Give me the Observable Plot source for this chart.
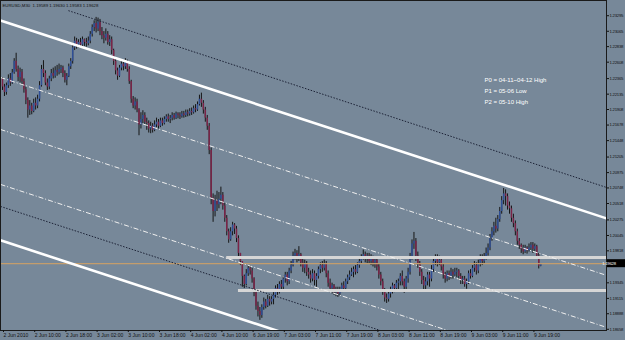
<!DOCTYPE html>
<html><head><meta charset="utf-8">
<script src="https://cdn.jsdelivr.net/npm/d3@7"></script>
<script src="https://cdn.jsdelivr.net/npm/@observablehq/plot@0.6"></script>
<style>
html,body{margin:0;padding:0;background:#778899;}
#chart{width:625px;height:340px;overflow:hidden;}
</style></head><body><div id="chart"></div>
<script>
// ---------- data ----------
const symbolTitle = "EURUSD,M30  1.19589 1.19630 1.19583 1.19628";
const firstOpen = 1.2236;
const close = [
1.2224,1.2216,1.2226,1.2236,1.2230,1.2245,1.2262,1.2250,1.2238,1.2246,
1.2232,1.2220,1.2204,1.2190,1.2196,1.2188,1.2200,1.2196,1.2206,1.2226,
1.2250,1.2244,1.2230,1.2224,1.2236,1.2244,1.2240,1.2248,1.2246,1.2250,
1.2252,1.2244,1.2234,1.2240,1.2254,1.2262,1.2282,1.2292,1.2286,1.2290,
1.2286,1.2294,1.2290,1.2288,1.2292,1.2302,1.2312,1.2318,1.2310,1.2320,1.2306,
1.2300,1.2296,1.2302,1.2290,1.2294,1.2278,1.2262,1.2248,1.2240,1.2252,
1.2258,1.2254,1.2260,1.2250,1.2232,1.2206,1.2196,1.2202,1.2190,1.2168,
1.2176,1.2182,1.2172,1.2170,1.2162,1.2166,1.2160,1.2168,1.2172,1.2166,
1.2174,1.2170,1.2176,1.2180,1.2176,1.2178,1.2182,1.2178,1.2184,1.2182,
1.2180,1.2184,1.2182,1.2186,1.2184,1.2188,1.2186,1.2192,1.2190,1.2198,1.2206,
1.2200,1.2190,1.2178,1.2166,1.2130,1.2060,1.2040,1.2056,1.2050,1.2058,
1.2064,1.2048,1.2030,1.2010,1.1998,1.2010,1.2020,1.2014,1.2000,1.1978,
1.1966,1.1944,1.1932,1.1948,1.1956,1.1952,1.1940,1.1920,1.1900,1.1892,
1.1886,1.1898,1.1906,1.1900,1.1910,1.1906,1.1910,
1.1916,1.1926,1.1920,1.1932,1.1928,1.1940,1.1946,1.1936,1.1952,1.1960,1.1974,1.1978,1.1970,1.1976,
1.1964,1.1956,1.1962,1.1950,1.1946,1.1940,1.1948,1.1938,1.1944,1.1954,
1.1960,1.1956,1.1962,1.1948,1.1934,1.1926,1.1930,1.1920,1.1924,1.1918,
1.1924,1.1930,1.1926,1.1936,1.1942,1.1946,1.1950,
1.1954,1.1950,1.1960,1.1966,1.1972,1.1976,1.1970,1.1974,1.1966,1.1972,1.1964,1.1968,1.1958,1.1946,
1.1936,1.1922,1.1912,1.1910,1.1918,1.1924,1.1930,1.1926,
1.1934,1.1936,1.1944,
1.1936,1.1928,1.1940,1.1950,1.1972,1.1992,1.1996,1.1974,1.1962,1.1950,
1.1938,1.1930,1.1936,1.1946,1.1940,1.1954,1.1966,1.1970,1.1964,1.1968,
1.1958,1.1946,1.1940,1.1948,1.1944,1.1950,1.1946,1.1950,
1.1952,1.1944,1.1938,1.1940,1.1932,1.1936,1.1948,1.1944,1.1956,1.1960,1.1952,1.1962,1.1970,
1.1966,1.1972,1.1978,1.1986,1.2000,1.2010,1.2018,1.2014,1.2028,1.2040,
1.2056,1.2066,1.2062,1.2048,1.2044,1.2030,1.2022,1.2010,1.1996,1.1990,
1.1984,1.1980,1.1986,1.1982,1.1986,1.1990,1.1984,1.1988,1.1974,1.19589,1.19628];
const high = [
1.2238,1.2228,1.2230,1.2242,1.2244,1.2250,1.2266,1.2274,1.2255,1.2252,
1.2250,1.2236,1.2224,1.2208,1.2204,1.2200,1.2206,1.2208,1.2212,1.2232,
1.2256,1.2263,1.2248,1.2236,1.2240,1.2250,1.2252,1.2254,1.2256,1.2258,
1.2256,1.2255,1.2248,1.2244,1.2258,1.2266,1.2286,1.2298,1.2296,1.2294,
1.2296,1.2298,1.2295,1.2296,1.2298,1.2306,1.2316,1.2322,1.2327,1.2326,1.2324,
1.2312,1.2306,1.2310,1.2306,1.2300,1.2298,1.2280,1.2266,1.2252,1.2256,
1.2264,1.2262,1.2266,1.2264,1.2254,1.2234,1.2210,1.2208,1.2206,1.2192,
1.2186,1.2189,1.2186,1.2178,1.2174,1.2172,1.2170,1.2174,1.2178,1.2176,
1.2178,1.2178,1.2180,1.2183,1.2184,1.2182,1.2186,1.2185,1.2187,1.2186,
1.2186,1.2188,1.2188,1.2190,1.2190,1.2192,1.2193,1.2196,1.2198,1.2202,1.2212,
1.2215,1.2204,1.2194,1.2182,1.2170,1.2134,1.2066,1.2064,1.2070,1.2068,
1.2076,1.2068,1.2052,1.2034,1.2014,1.2016,1.2024,1.2022,1.2018,1.2004,
1.1978,1.1966,1.1946,1.1954,1.1960,1.1960,1.1956,1.1942,1.1924,1.1906,
1.1898,1.1902,1.1912,1.1910,1.1916,1.1914,1.1914,
1.1920,1.1930,1.1932,1.1936,1.1938,1.1944,1.1950,1.1950,1.1956,1.1966,1.1980,1.1984,1.1982,1.1988,
1.1978,1.1970,1.1968,1.1966,1.1956,1.1952,1.1954,1.1952,1.1948,1.1958,
1.1964,1.1966,1.1968,1.1966,1.1952,1.1940,1.1934,1.1932,1.1928,1.1928,
1.1928,1.1934,1.1936,1.1940,1.1946,1.1952,1.1956,
1.1958,1.1960,1.1964,1.1970,1.1976,1.1983,1.1980,1.1978,1.1978,1.1976,1.1974,1.1972,1.1970,1.1962,
1.1950,1.1940,1.1926,1.1918,1.1922,1.1928,1.1934,1.1932,
1.1938,1.1940,1.1948,
1.1952,1.1940,1.1944,1.1956,1.1978,1.1998,1.2009,1.2000,1.1980,1.1966,
1.1954,1.1944,1.1942,1.1950,1.1950,1.1960,1.1972,1.1976,1.1976,1.1974,
1.1972,1.1962,1.1950,1.1952,1.1952,1.1956,1.1954,1.1956,
1.1956,1.1954,1.1948,1.1944,1.1944,1.1940,1.1952,1.1954,1.1960,1.1966,1.1964,1.1968,1.1976,
1.1976,1.1978,1.1986,1.1992,1.2006,1.2016,1.2024,1.2030,1.2034,1.2046,
1.2062,1.2074,1.2072,1.2066,1.2054,1.2048,1.2036,1.2026,1.2014,1.2000,
1.1992,1.1990,1.1990,1.1988,1.1992,1.1994,1.1994,1.1992,1.1990,1.1978,1.1963];
const low = [
1.2219,1.2210,1.2212,1.2222,1.2225,1.2228,1.2243,1.2246,1.2232,1.2230,
1.2226,1.2215,1.2198,1.2178,1.2182,1.2183,1.2186,1.2190,1.2192,1.2202,
1.2224,1.2238,1.2226,1.2219,1.2220,1.2232,1.2236,1.2237,1.2240,1.2242,
1.2244,1.2238,1.2230,1.2226,1.2238,1.2250,1.2258,1.2278,1.2280,1.2282,
1.2282,1.2284,1.2284,1.2283,1.2285,1.2288,1.2298,1.2306,1.2304,1.2306,1.2300,
1.2294,1.2288,1.2292,1.2286,1.2284,1.2272,1.2256,1.2242,1.2234,1.2238,
1.2248,1.2248,1.2250,1.2246,1.2228,1.2200,1.2192,1.2190,1.2186,1.2152,
1.2162,1.2170,1.2168,1.2160,1.2156,1.2155,1.2156,1.2158,1.2164,1.2162,
1.2164,1.2166,1.2168,1.2172,1.2172,1.2170,1.2174,1.2175,1.2176,1.2177,
1.2176,1.2178,1.2178,1.2179,1.2180,1.2181,1.2182,1.2184,1.2186,1.2188,1.2196,
1.2194,1.2184,1.2172,1.2160,1.2124,1.2050,1.2024,1.2032,1.2040,1.2044,
1.2050,1.2042,1.2024,1.2004,1.1993,1.1996,1.2004,1.2006,1.1994,1.1972,
1.1960,1.1928,1.1926,1.1930,1.1944,1.1946,1.1934,1.1914,1.1894,1.1884,
1.1879,1.1882,1.1894,1.1896,1.1898,1.1900,1.1902,
1.1902,1.1912,1.1916,1.1918,1.1922,1.1924,1.1934,1.1930,1.1932,1.1948,1.1958,1.1968,1.1964,1.1966,
1.1958,1.1950,1.1948,1.1944,1.1940,1.1934,1.1936,1.1930,1.1928,1.1940,
1.1948,1.1950,1.1952,1.1942,1.1928,1.1920,1.1918,1.1916,1.1914,1.1913,
1.1915,1.1920,1.1922,1.1924,1.1932,1.1938,1.1944,
1.1942,1.1946,1.1948,1.1956,1.1962,1.1968,1.1964,1.1962,1.1962,1.1960,1.1958,1.1956,1.1952,1.1940,
1.1930,1.1916,1.1906,1.1904,1.1906,1.1912,1.1918,1.1920,
1.1922,1.1922,1.1930,
1.1930,1.1919,1.1924,1.1934,1.1946,1.1968,1.1984,1.1966,1.1956,1.1944,
1.1932,1.1924,1.1922,1.1930,1.1928,1.1936,1.1950,1.1960,1.1958,1.1960,
1.1952,1.1940,1.1934,1.1936,1.1938,1.1940,1.1940,1.1944,
1.1942,1.1938,1.1932,1.1932,1.1928,1.1925,1.1932,1.1940,1.1942,1.1950,1.1946,1.1948,1.1958,
1.1960,1.1962,1.1968,1.1974,1.1982,1.1996,1.2004,1.2008,1.2010,1.2024,
1.2036,1.2050,1.2048,1.2042,1.2036,1.2024,1.2016,1.2004,1.1990,1.1984,
1.1978,1.1976,1.1978,1.1977,1.1980,1.1982,1.1978,1.1980,1.1970,1.1955,1.19583];

const timeLabels = ["2 Jun 2010","2 Jun 10:00","2 Jun 18:00","3 Jun 02:00","3 Jun 10:00","3 Jun 18:00",
  "4 Jun 02:00","4 Jun 10:00","6 Jun 19:00","7 Jun 03:00","7 Jun 11:00","7 Jun 19:00",
  "8 Jun 03:00","8 Jun 11:00","8 Jun 19:00","9 Jun 03:00","9 Jun 11:00","9 Jun 19:00"];
const barsPerTimeLabel = 16;
const priceLabels = ["1.23295","1.23065","1.22838","1.22608","1.22365","1.22135","1.21908","1.21678",
  "1.21448","1.21205","1.20975","1.20748","1.20518","1.20275","1.20045","1.19818","1.19345",
  "1.19115","1.18888","1.18658"];
const lastPrice = 1.19628;
const lastPriceLabel = "1.19628";
const pivotNotes = ["P0 = 04-11~04-12 High","P1 = 05-06 Low","P2 = 05-10 High"];

// trend lines (bar index, price)
const trendKind   = ["dotted","thick","dashdot","dashdot","dashdot","dotted","thick"];
const trendBar1   = [33.8, -1.03, -1.03, -1.03, -1.03, -1.03, -1.03];
const trendPrice1 = [1.2337, 1.23224, 1.22382, 1.21613, 1.20800, 1.20475, 1.19973];
const trendBar2   = [309.7, 309.7, 309.7, 309.7, 309.7, 309.7, 309.7];
const trendPrice2 = [1.20756, 1.20298, 1.19456, 1.18687, 1.17874, 1.17549, 1.17046];
// horizontal levels
const levelPrice = [1.1972, 1.1923];
const levelStartBar = [115, 121];

// ---------- build ----------
const xDomain = [-1.026, 309.74];
const yDomain = [1.1864, 1.2352];
const n = Math.min(close.length, high.length, low.length);
const bars = d3.range(n).map(i => ({
  i, o: i ? close[i-1] : firstOpen, c: close[i], h: high[i], l: low[i]
}));
const trends = trendKind.map((k, j) => ({k, x1: trendBar1[j], y1: trendPrice1[j], x2: trendBar2[j], y2: trendPrice2[j]}));
const levels = levelPrice.map((p, j) => ({p, s: levelStartBar[j], e: xDomain[1]}));
const priceTicks = priceLabels.map(Number);
const labelOf = new Map(priceTicks.map((v, j) => [v, priceLabels[j]]));
const timeTicks = timeLabels.map((_, k) => k * barsPerTimeLabel);
const timeOf = new Map(timeTicks.map((v, k) => [v, timeLabels[k]]));

const bull = "#2f4f96", bear = "#7b2448";
const axisFont = "'Liberation Sans Narrow','Liberation Sans',sans-serif";

const chart = Plot.plot({
  width: 625, height: 340,
  marginLeft: 0, marginRight: 19, marginTop: 0, marginBottom: 10,
  style: {background: "#778899", fontFamily: axisFont, overflow: "visible"},
  x: {domain: xDomain},
  y: {domain: yDomain},
  marks: [
    // candles
    Plot.ruleX(bars, {x: "i", y1: d => Math.min(d.l, d.o, d.c), y2: d => Math.max(d.h, d.o, d.c), stroke: "#151515", strokeWidth: 1}),
    Plot.ruleX(bars, {x: "i", y1: "o", y2: "c", stroke: d => d.c >= d.o ? bull : bear, strokeWidth: 1.5}),
    // horizontal levels
    Plot.ruleY(levels, {y: "p", x1: "s", x2: "e", stroke: "#d6d6d6", strokeWidth: 3}),
    Plot.ruleY([lastPrice], {stroke: "#c49d6c", strokeWidth: 1.2}),
    // trend lines
    Plot.link(trends.filter(d => d.k === "thick"), {x1: "x1", y1: "y1", x2: "x2", y2: "y2", stroke: "#ffffff", strokeWidth: 2.6, clip: true}),
    Plot.link(trends.filter(d => d.k === "dashdot"), {x1: "x1", y1: "y1", x2: "x2", y2: "y2", stroke: "#f0f0f0", strokeWidth: 1, strokeDasharray: "5,2,1,2", clip: true}),
    Plot.link(trends.filter(d => d.k === "dotted"), {x1: "x1", y1: "y1", x2: "x2", y2: "y2", stroke: "#1c2236", strokeWidth: 1, strokeDasharray: "1.5,1.5", clip: true}),
    // frame and axes
    Plot.frame({stroke: "#1a1a1a"}),
    Plot.axisY({anchor: "right", ticks: priceTicks, tickFormat: d => labelOf.get(d), tickSize: 2, tickPadding: 1,
      fontSize: 4.2, stroke: "#111", fill: "#111", label: null}),
    Plot.axisX({anchor: "bottom", ticks: timeTicks, tickFormat: d => timeOf.get(d), tickSize: 2, tickPadding: 1,
      fontSize: 5, textAnchor: "start", dx: 1, stroke: "#111", fill: "#111", label: null}),
    // texts
    Plot.text([symbolTitle], {frameAnchor: "top-left", dx: 2, dy: 3, fontSize: 4.3, lineAnchor: "top", textAnchor: "start", fill: "#111"}),
    Plot.text([pivotNotes.join("\n")], {frameAnchor: "top-left", dx: 484, dy: 74, fontSize: 6, lineHeight: 1.8,
      lineAnchor: "top", textAnchor: "start", fill: "#ffffff", fontFamily: "'Liberation Sans',Arial,sans-serif"})
  ]
});
document.getElementById("chart").appendChild(chart);

const svg = d3.select(chart);
// tighten price-axis labels so they fit inside the 625px page
svg.selectAll("g[aria-label='y-axis tick label'] text").attr("letter-spacing", "-0.2");

// current price tag on the price axis
const yPos = chart.scale("y").apply(lastPrice);
const xEdge = chart.scale("x").apply(xDomain[1]);
const tag = svg.append("g");
tag.append("rect").attr("x", xEdge + 1).attr("y", yPos - 4).attr("width", 625 - xEdge - 1).attr("height", 8).attr("fill", "#000");
tag.append("text").attr("x", xEdge + 3).attr("y", yPos).attr("dy", "0.35em").attr("letter-spacing", "-0.2")
  .attr("fill", "#fff").attr("font-size", 4.2).attr("font-family", axisFont).text(lastPriceLabel);
</script>
</body></html>
